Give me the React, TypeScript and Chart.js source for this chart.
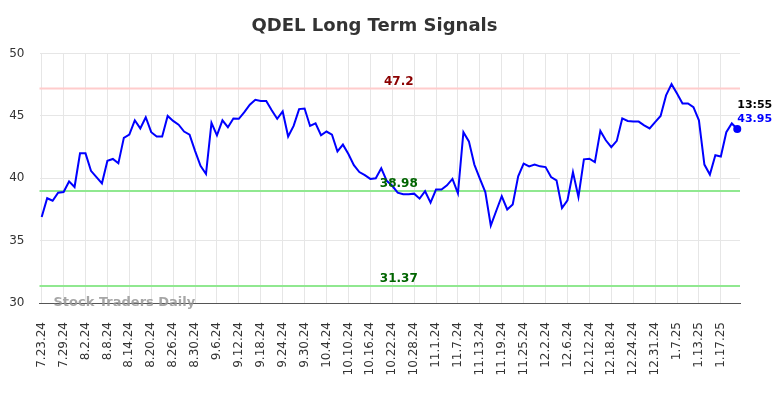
import React, { useEffect, useRef } from "react";
import { Chart, registerables } from "chart.js";

Chart.register(...registerables);

const TITLE = "QDEL Long Term Signals";
const WATERMARK = "Stock Traders Daily";
const LAST_TIME = "13:55";

const dates: string[] = [
  "7.23.24","7.24.24","7.25.24","7.26.24","7.29.24","7.30.24","7.31.24",
  "8.1.24","8.2.24","8.5.24","8.6.24","8.7.24","8.8.24","8.9.24","8.12.24","8.13.24","8.14.24","8.15.24","8.16.24","8.19.24","8.20.24","8.21.24","8.22.24","8.23.24","8.26.24","8.27.24","8.28.24","8.29.24","8.30.24",
  "9.3.24","9.4.24","9.5.24","9.6.24","9.9.24","9.10.24","9.11.24","9.12.24","9.13.24","9.16.24","9.17.24","9.18.24","9.19.24","9.20.24","9.23.24","9.24.24","9.25.24","9.26.24","9.27.24","9.30.24",
  "10.1.24","10.2.24","10.3.24","10.4.24","10.7.24","10.8.24","10.9.24","10.10.24","10.11.24","10.14.24","10.15.24","10.16.24","10.17.24","10.18.24","10.21.24","10.22.24","10.23.24","10.24.24","10.25.24","10.28.24","10.29.24","10.30.24","10.31.24",
  "11.1.24","11.4.24","11.5.24","11.6.24","11.7.24","11.8.24","11.11.24","11.12.24","11.13.24","11.14.24","11.15.24","11.18.24","11.19.24","11.20.24","11.21.24","11.22.24","11.25.24","11.26.24","11.27.24","11.29.24",
  "12.2.24","12.3.24","12.4.24","12.5.24","12.6.24","12.9.24","12.10.24","12.11.24","12.12.24","12.13.24","12.16.24","12.17.24","12.18.24","12.19.24","12.20.24","12.23.24","12.24.24","12.26.24","12.27.24","12.30.24","12.31.24",
  "1.2.25","1.3.25","1.6.25","1.7.25","1.8.25","1.9.25","1.10.25","1.13.25","1.14.25","1.15.25","1.16.25","1.17.25","1.21.25","1.22.25","1.23.25",
];

const prices: number[] = [
  36.9, 38.4, 38.2, 38.85, 38.9, 39.75, 39.3, 42.0, 42.0, 40.6,
  40.1, 39.6, 41.4, 41.55, 41.2, 43.25, 43.5, 44.65, 44.0, 44.9,
  43.7, 43.35, 43.35, 45.0, 44.6, 44.3, 43.75, 43.5, 42.2, 41.0,
  40.35, 44.45, 43.45, 44.65, 44.1, 44.8, 44.77, 45.3, 45.9, 46.3,
  46.2, 46.2, 45.45, 44.77, 45.36, 43.35, 44.2, 45.55, 45.6, 44.2,
  44.4, 43.45, 43.75, 43.5, 42.15, 42.7, 41.95, 41.05, 40.5, 40.25,
  39.95, 40.0, 40.8, 39.8, 39.4, 38.85, 38.72, 38.73, 38.77, 38.37,
  38.96, 38.05, 39.1, 39.1, 39.44, 39.95, 38.8, 43.7, 42.96, 41.1,
  39.97, 38.9, 36.2, 37.4, 38.56, 37.5, 37.9, 40.16, 41.17, 40.96,
  41.1, 40.96, 40.9, 40.1, 39.84, 37.62, 38.24, 40.5, 38.5, 41.52,
  41.57, 41.3, 43.8, 43.05, 42.5, 43.0, 44.8, 44.6, 44.55, 44.55,
  44.25, 44.0, 44.5, 45.0, 46.65, 47.55, 46.8, 46.0, 46.0, 45.7,
  44.65, 41.1, 40.3, 41.85, 41.75, 43.7, 44.4, 43.95,
];

const tickIndices: number[] = [
  0, 4, 8, 12, 16, 20, 24, 28, 32, 36, 40, 44, 48, 52, 56, 60,
  64, 68, 72, 76, 80, 84, 88, 92, 96, 100, 104, 108, 112, 116, 120, 124,
];

const yTicks: number[] = [30, 35, 40, 45, 50];
const resistanceLevels: number[] = [47.2];
const supportLevels: number[] = [38.98, 31.37];
const levelLabelIndex = 65.2;

export default function App() {
  const ref = useRef<HTMLCanvasElement | null>(null);

  useEffect(() => {
    if (!ref.current) return;
    const points = prices.map((p, i) => ({ x: i, y: p }));
    const last = prices.length - 1;

    const levelsPlugin = {
      id: "levels",
      beforeDatasetsDraw(chart: any) {
        const { ctx, chartArea, scales } = chart;
        const y = scales.y;
        ctx.save();
        ctx.lineWidth = 2;
        const drawLine = (v: number, color: string) => {
          const py = y.getPixelForValue(v);
          ctx.strokeStyle = color;
          ctx.beginPath();
          ctx.moveTo(chartArea.left, py);
          ctx.lineTo(chartArea.right, py);
          ctx.stroke();
        };
        resistanceLevels.forEach((v) => drawLine(v, "#ffcccc"));
        supportLevels.forEach((v) => drawLine(v, "#90e890"));
        ctx.restore();
      },
      afterDatasetsDraw(chart: any) {
        const { ctx, chartArea, scales } = chart;
        const x = scales.x;
        const y = scales.y;
        ctx.save();
        ctx.font = "bold 12px 'DejaVu Sans', sans-serif";
        ctx.textAlign = "center";
        ctx.textBaseline = "bottom";
        const lx = x.getPixelForValue(levelLabelIndex);
        resistanceLevels.forEach((v) => {
          ctx.fillStyle = "#8b0000";
          ctx.fillText(String(v), lx, y.getPixelForValue(v) - 1);
        });
        supportLevels.forEach((v) => {
          ctx.fillStyle = "#006400";
          ctx.fillText(String(v), lx, y.getPixelForValue(v) - 1);
        });
        const px = x.getPixelForValue(last);
        const py = y.getPixelForValue(prices[last]);
        ctx.textAlign = "left";
        ctx.textBaseline = "middle";
        ctx.font = "bold 11px 'DejaVu Sans', sans-serif";
        ctx.fillStyle = "#000000";
        ctx.fillText(LAST_TIME, px, py - 24);
        ctx.fillStyle = "#0000ff";
        ctx.fillText(prices[last].toFixed(2), px, py - 10);
        ctx.font = "bold 13px 'DejaVu Sans', sans-serif";
        ctx.fillStyle = "rgba(150,150,150,0.85)";
        ctx.textAlign = "left";
        ctx.textBaseline = "alphabetic";
        ctx.fillText(WATERMARK, chartArea.left + 14, chartArea.bottom + 3);
        ctx.restore();
      },
    };

    const chart = new Chart(ref.current, {
      type: "line",
      data: {
        datasets: [
          {
            data: points,
            borderColor: "#0000ff",
            backgroundColor: "#0000ff",
            borderWidth: 2,
            tension: 0,
            clip: false,
            pointRadius: (c: any) => (c.dataIndex === last ? 4 : 0),
            pointHoverRadius: 0,
            pointBackgroundColor: "#0000ff",
            pointBorderWidth: 0,
          },
        ],
      },
      options: {
        animation: false,
        responsive: false,
        layout: { padding: { left: 9, right: 44, top: 6, bottom: 0 } },
        plugins: {
          legend: { display: false },
          tooltip: { enabled: false },
          title: {
            display: true,
            text: TITLE,
            color: "#333333",
            font: { size: 18, weight: "bold", family: "'DejaVu Sans', sans-serif" },
            padding: { top: 10, bottom: 16 },
          },
        },
        scales: {
          x: {
            type: "linear",
            min: -0.4,
            max: 127.5,
            afterBuildTicks: (axis: any) => {
              axis.ticks = tickIndices.map((v) => ({ value: v }));
            },
            afterFit: (axis: any) => {
              axis.height = 95;
            },
            ticks: {
              autoSkip: false,
              minRotation: 90,
              maxRotation: 90,
              padding: 19,
              color: "#333333",
              font: { size: 12, family: "'DejaVu Sans', sans-serif" },
              callback: (v: any) => dates[Math.round(Number(v))] ?? "",
            },
            grid: { color: "#e6e6e6", drawTicks: false },
            border: { display: true, color: "#555555", width: 1 },
          },
          y: {
            min: 30,
            max: 50,
            afterBuildTicks: (axis: any) => {
              axis.ticks = yTicks.map((v) => ({ value: v }));
            },
            afterFit: (axis: any) => {
              axis.width = 30.5;
            },
            ticks: {
              padding: 15,
              color: "#333333",
              font: { size: 12, family: "'DejaVu Sans', sans-serif" },
            },
            grid: { color: "#e6e6e6", drawTicks: false },
            border: { display: false },
          },
        },
      },
      plugins: [levelsPlugin],
    } as any);

    return () => chart.destroy();
  }, []);

  return (
    <div style={{ position: "fixed", left: 0, top: 0, width: 784, height: 398, background: "#ffffff" }}>
      <canvas ref={ref} width={784} height={398} style={{ display: "block" }} />
    </div>
  );
}
